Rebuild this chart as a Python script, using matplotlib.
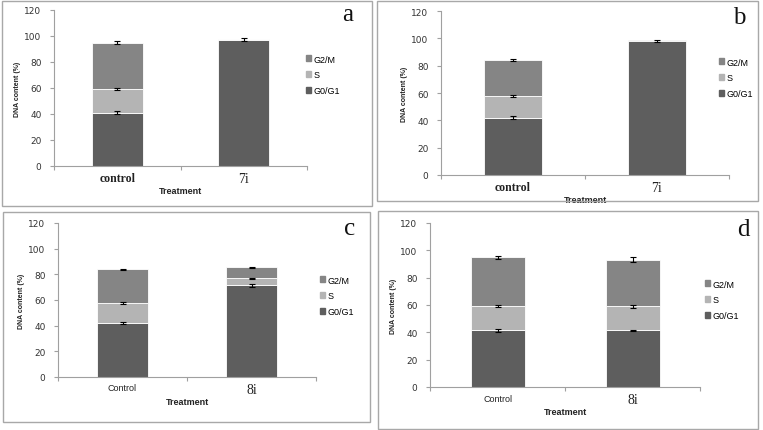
import numpy as np
import matplotlib
matplotlib.use("Agg")
import matplotlib.pyplot as plt
from matplotlib.patches import Rectangle, Patch

W, H = 763, 431

# --- data (cell-cycle phase percentages) ---
phases = ["G0/G1", "S", "G2/M"]

cats_a = ["control", "7i"]
g0g1_a = [41, 97]
s_a = [18, 0.5]
g2m_a = [36, 0.5]
err_a = [[1.0, 1.2], [0.8, 0.0], [0.8, 0.0]]

cats_b = ["control", "7i"]
g0g1_b = [42, 98]
s_b = [16, 0.3]
g2m_b = [26, 0.2]
err_b = [[1.0, 0.5], [0.8, 0.0], [0.6, 0.0]]

cats_c = ["Control", "8i"]
g0g1_c = [42, 71.5]
s_c = [16, 5.5]
g2m_c = [26, 8.5]
err_c = [[1.0, 1.0], [0.8, 0.5], [0.4, 0.5]]

cats_d = ["Control", "8i"]
g0g1_d = [41.5, 41.5]
s_d = [17.5, 17.5]
g2m_d = [36, 34]
err_d = [[1.0, 0.5], [0.8, 1.2], [1.0, 1.8]]

colors = {"G0/G1": "#5e5e5e", "S": "#b4b4b4", "G2/M": "#858585"}


def px_rect(x0, y0, x1, y1):
    return [x0 / W, 1 - y1 / H, (x1 - x0) / W, (y1 - y0) / H]


def draw_panel(fig, box, frame, cats, g0, s, g2, err, letter, serif_cats, leg_xy, letter_xy):
    fig.patches.append(Rectangle((frame[0] / W, 1 - frame[3] / H),
                                 (frame[2] - frame[0]) / W, (frame[3] - frame[1]) / H,
                                 transform=fig.transFigure, fill=False,
                                 edgecolor="#a8a8a8", linewidth=1.0))
    ax = fig.add_axes(px_rect(*box))
    x = np.arange(len(cats))
    bottom = np.zeros(len(cats))
    handles = []
    for vals, name, e in zip([g0, s, g2], phases, err):
        vals = np.array(vals, dtype=float)
        ax.bar(x, vals, 0.4, bottom=bottom, color=colors[name],
               edgecolor="white", linewidth=0.6, zorder=2)
        top = bottom + vals
        e = np.array(e)
        m = e > 0
        ax.errorbar(x[m], top[m], yerr=e[m], fmt="none", ecolor="black",
                    elinewidth=0.8, capsize=2, capthick=0.8, zorder=3)
        bottom = top
        handles.append(Patch(color=colors[name], label=name))
    ax.set_xlim(-0.5, len(cats) - 0.5)
    ax.set_ylim(0, 120)
    ax.set_yticks(range(0, 121, 20))
    ax.set_xticks(x)
    ax.set_xticks(np.arange(-0.5, len(cats), 1.0), minor=True)
    for sp in ["top", "right"]:
        ax.spines[sp].set_visible(False)
    for sp in ["left", "bottom"]:
        ax.spines[sp].set_color("#a0a0a0")
        ax.spines[sp].set_linewidth(0.8)
    ax.tick_params(axis="y", labelsize=6.5, labelcolor="#333333", color="#a0a0a0",
                   length=3, width=0.8, pad=6)
    ax.tick_params(axis="x", which="major", length=0, pad=4)
    ax.tick_params(axis="x", which="minor", length=3, width=0.8, color="#a0a0a0")
    ax.set_xticklabels([])
    for xi, c in zip(x, cats):
        if c.endswith("i"):
            ax.text(xi, -4.5, c, ha="center", va="top", fontsize=10,
                    family="Liberation Serif", color="#222222")
        elif serif_cats:
            ax.text(xi, -4.5, c, ha="center", va="top", fontsize=8.5,
                    family="Liberation Serif", fontweight="bold", color="#222222")
        else:
            ax.text(xi, -5, c, ha="center", va="top", fontsize=6.5,
                    family="Liberation Sans", color="#222222")
    ax.annotate("Treatment", xy=(0.5, 0), xycoords="axes fraction",
                xytext=(0, -18), textcoords="offset points", ha="center", va="center",
                fontsize=6.5, fontweight="bold", family="Liberation Sans", color="#222222")
    ax.set_ylabel("DNA content (%)", fontsize=5, fontweight="bold",
                  family="Liberation Sans", labelpad=2, color="#222222")
    fig.legend(handles[::-1], [h.get_label() for h in handles[::-1]],
               loc="upper left", bbox_to_anchor=(leg_xy[0] / W, 1 - leg_xy[1] / H),
               frameon=False, handlelength=0.6, handleheight=0.6,
               handletextpad=0.3, labelspacing=0.75, borderpad=0,
               prop={"family": "Liberation Sans", "size": 6.5})
    fig.text(letter_xy[0] / W, 1 - letter_xy[1] / H, letter, fontsize=18,
             family="Liberation Serif", ha="center", va="center", color="#111111")
    return ax


fig = plt.figure(figsize=(W / 100, H / 100), dpi=100)
fig.patch.set_facecolor("white")

draw_panel(fig, (54, 11, 307, 167), (2, 2, 372, 207), cats_a, g0g1_a, s_a, g2m_a, err_a,
           "a", True, (301, 51), (348, 15))
draw_panel(fig, (441, 12, 729, 176), (377, 2, 758, 202), cats_b, g0g1_b, s_b, g2m_b, err_b,
           "b", True, (714, 54), (739, 18))
draw_panel(fig, (58, 224, 316, 378), (3, 213, 370, 423), cats_c, g0g1_c, s_c, g2m_c, err_c,
           "c", False, (315, 272), (350, 229))
draw_panel(fig, (430, 224, 700, 388), (378, 212, 758, 430), cats_d, g0g1_d, s_d, g2m_d, err_d,
           "d", False, (700, 276), (743, 230))

fig.savefig("out.png", dpi=100, facecolor="white")
